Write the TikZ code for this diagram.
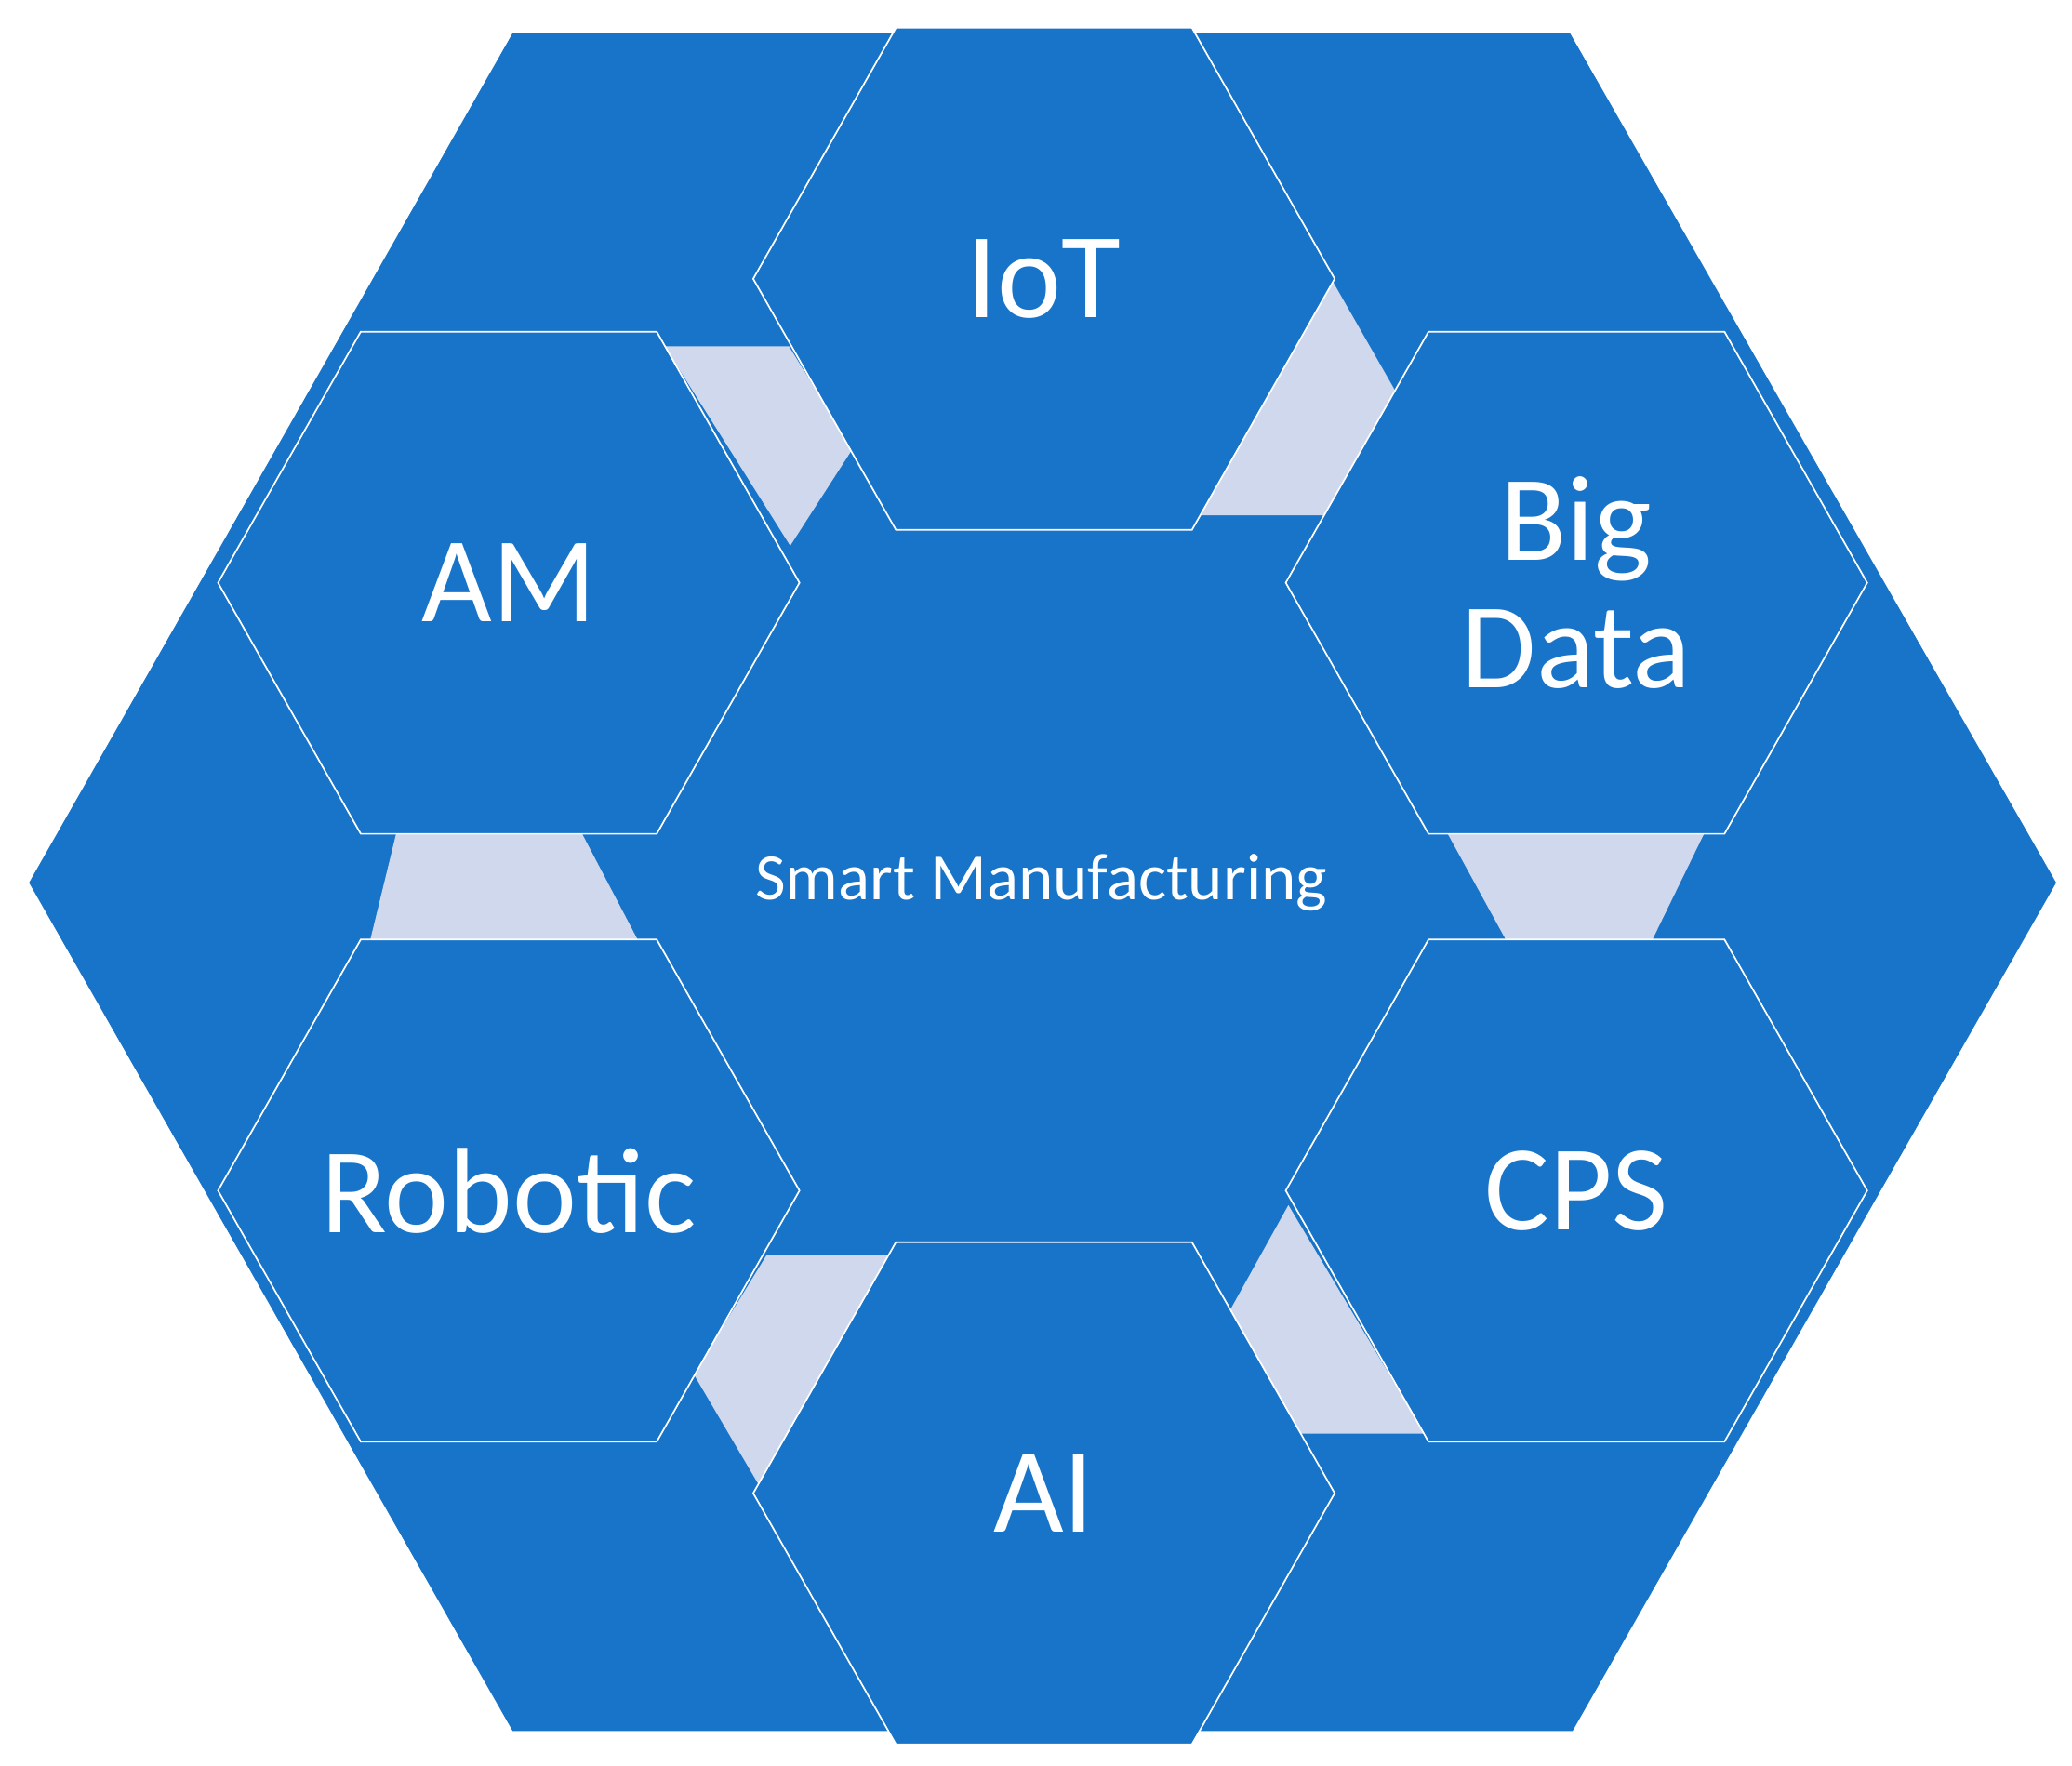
\documentclass[tikz,border=0pt]{standalone}
\usepackage{fontspec}
\setmainfont{Carlito}
\definecolor{hexblue}{HTML}{1874C9}
\definecolor{patch}{HTML}{CFD8EC}
\begin{document}
\begin{tikzpicture}[x=1pt,y=-1pt,
  hexbox/.style={fill=hexblue,draw=white,line width=1.2pt},
  lab/.style={text=white,font=\fontsize{92}{92}\selectfont,align=center,inner sep=0pt},
  patchfill/.style={fill=patch}]
\useasboundingbox (0,0) rectangle (1568,1336);
\fill[white] (0,0) rectangle (1568,1336);
% outer hexagon
\fill[hexblue] (22,668) -- (388,25) -- (1188,25) -- (1556,668) -- (1190,1310) -- (388,1310) -- cycle;
% patches
\fill[patchfill] (503,262) -- (597,262) -- (645,340) -- (598,413) -- cycle;
\fill[patchfill] (1008,212) -- (1056,296) -- (1003,390) -- (905,390) -- cycle;
\fill[patchfill] (1095,630) -- (1290,630) -- (1250,712) -- (1140,712) -- cycle;
\fill[patchfill] (300,630) -- (440,630) -- (483,712) -- (280,712) -- cycle;
\fill[patchfill] (975,912) -- (1078,1085) -- (980,1085) -- (930,993) -- cycle;
\fill[patchfill] (580,950) -- (675,950) -- (575,1125) -- (525,1040) -- cycle;
% small hexagons
\foreach \n/\cx/\cy in {iot/790/211, am/385/441, bd/1193/441, rob/385/901, cps/1193/901, ai/790/1130}{
  \draw[hexbox] (\cx-220,\cy) -- (\cx-112,\cy-190) -- (\cx+112,\cy-190) -- (\cx+220,\cy) -- (\cx+112,\cy+190) -- (\cx-112,\cy+190) -- cycle;
  \coordinate (\n) at (\cx,\cy);
}
\node[lab] (tiot) at (iot) {IoT};
\node[lab] (tam) at (am) {AM};
\node[lab,font=\fontsize{92}{96}\selectfont] (tbd) at (bd) {Big\\Data};
\node[lab] (trob) at (rob) {Robotic};
\node[lab] (tcps) at (cps) {CPS};
\node[lab] (tai) at (ai) {AI};
\node[text=white,font=\fontsize{50}{50}\selectfont,inner sep=0pt] (sm) at (788,668) {Smart Manufacturing};
\end{tikzpicture}
\end{document}
